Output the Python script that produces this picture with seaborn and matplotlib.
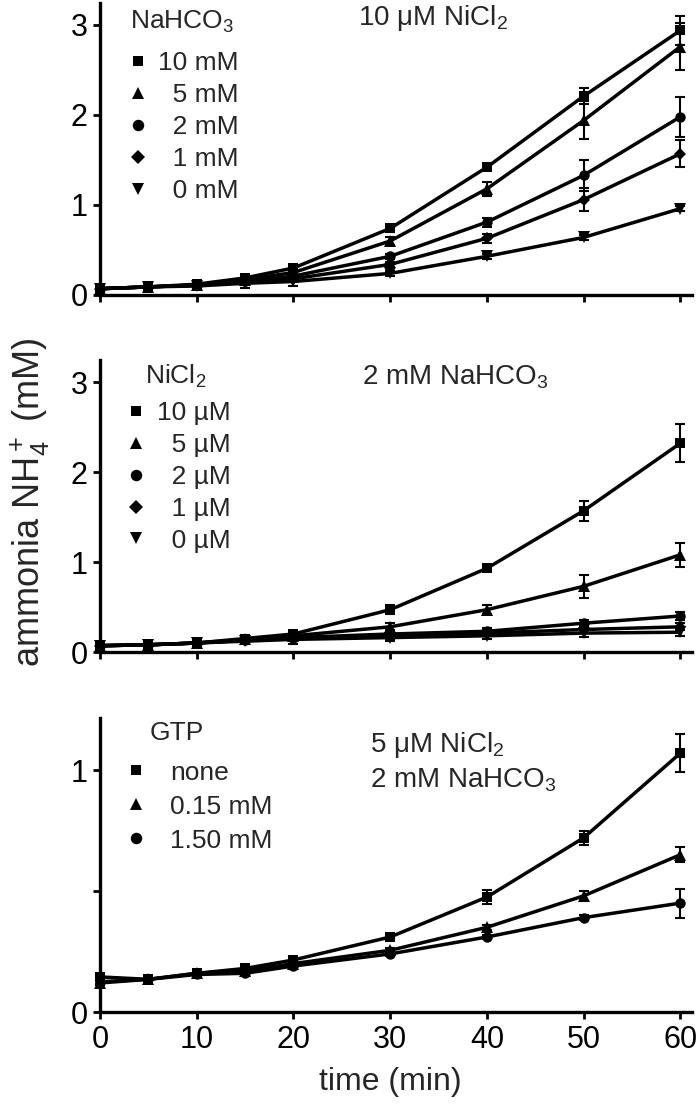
import numpy as np
import pandas as pd
import matplotlib
matplotlib.use('Agg')
import matplotlib.pyplot as plt
from matplotlib.lines import Line2D
import seaborn as sns

# time points (min)
TIME = [0, 5, 10, 15, 20, 30, 40, 50, 60]

# panel A: NaHCO3 series at 10 uM NiCl2
NA_LABELS = ['10 mM', '\u20075 mM', '\u20072 mM', '\u20071 mM', '\u20070 mM']
NA_VALUES = [
    [0.07, 0.09, 0.12, 0.19, 0.30, 0.74, 1.42, 2.21, 2.94],
    [0.07, 0.09, 0.11, 0.17, 0.25, 0.60, 1.18, 1.94, 2.76],
    [0.07, 0.09, 0.11, 0.15, 0.21, 0.43, 0.81, 1.33, 1.98],
    [0.07, 0.09, 0.11, 0.14, 0.18, 0.34, 0.63, 1.06, 1.57],
    [0.07, 0.09, 0.10, 0.13, 0.15, 0.24, 0.43, 0.64, 0.96],
]
NA_ERRORS = [
    [0.02, 0.02, 0.02, 0.03, 0.03, 0.04, 0.03, 0.09, 0.16],
    [0.02, 0.02, 0.02, 0.03, 0.03, 0.04, 0.08, 0.21, 0.26],
    [0.02, 0.02, 0.02, 0.03, 0.03, 0.03, 0.05, 0.17, 0.22],
    [0.02, 0.02, 0.02, 0.03, 0.03, 0.03, 0.05, 0.13, 0.15],
    [0.02, 0.02, 0.03, 0.05, 0.05, 0.03, 0.03, 0.03, 0.03],
]

# panel B: NiCl2 series at 2 mM NaHCO3
NI_LABELS = ['10 \u00b5M', '\u20075 \u00b5M', '\u20072 \u00b5M', '\u20071 \u00b5M', '\u20070 \u00b5M']
NI_VALUES = [
    [0.07, 0.08, 0.10, 0.15, 0.20, 0.47, 0.93, 1.57, 2.32],
    [0.07, 0.08, 0.10, 0.14, 0.18, 0.28, 0.47, 0.73, 1.08],
    [0.07, 0.08, 0.10, 0.13, 0.16, 0.20, 0.23, 0.32, 0.40],
    [0.07, 0.08, 0.10, 0.13, 0.15, 0.18, 0.21, 0.25, 0.28],
    [0.07, 0.08, 0.10, 0.12, 0.14, 0.16, 0.18, 0.21, 0.22],
]
NI_ERRORS = [
    [0.02, 0.02, 0.02, 0.03, 0.03, 0.05, 0.03, 0.11, 0.21],
    [0.02, 0.02, 0.02, 0.03, 0.04, 0.04, 0.05, 0.13, 0.13],
    [0.02, 0.02, 0.02, 0.03, 0.03, 0.03, 0.04, 0.04, 0.04],
    [0.02, 0.02, 0.02, 0.03, 0.03, 0.03, 0.03, 0.04, 0.04],
    [0.02, 0.02, 0.02, 0.03, 0.05, 0.04, 0.04, 0.04, 0.04],
]

# panel C: GTP series at 5 uM NiCl2, 2 mM NaHCO3
GTP_LABELS = ['none', '0.15 mM', '1.50 mM']
GTP_VALUES = [
    [0.145, 0.135, 0.16, 0.18, 0.215, 0.31, 0.475, 0.72, 1.07],
    [0.120, 0.135, 0.16, 0.17, 0.200, 0.255, 0.35, 0.48, 0.65],
    [0.125, 0.135, 0.155, 0.16, 0.190, 0.240, 0.31, 0.39, 0.45],
]
GTP_ERRORS = [
    [0.01, 0.01, 0.01, 0.01, 0.01, 0.01, 0.03, 0.03, 0.08],
    [0.01, 0.01, 0.01, 0.01, 0.01, 0.01, 0.01, 0.02, 0.03],
    [0.01, 0.01, 0.01, 0.01, 0.01, 0.01, 0.01, 0.01, 0.06],
]

MARKERS = ['s', '^', 'o', 'D', 'v']
MSIZES = [7, 8.5, 7.5, 6.5, 8.5]

sns.set_style('ticks')
plt.rcParams['font.family'] = ['Liberation Sans', 'DejaVu Sans']
plt.rcParams['mathtext.fontset'] = 'custom'
plt.rcParams['mathtext.rm'] = 'Liberation Sans'
plt.rcParams['mathtext.it'] = 'Liberation Sans:italic'
plt.rcParams['mathtext.sf'] = 'Liberation Sans'

W, H = 700, 1107
fig = plt.figure(figsize=(W / 100, H / 100), dpi=100)


def px_axes(left, right, bottom, top):
    return fig.add_axes([left / W, 1 - bottom / H, (right - left) / W, (bottom - top) / H])


def draw_panel(ax, labels, values, errors, ylim, yticks, yticklabels, label_xlabels):
    rows = []
    for lab, vals in zip(labels, values):
        for t, v in zip(TIME, vals):
            rows.append({'time': t, 'nh4': v, 'series': lab})
    df = pd.DataFrame(rows)
    n = len(labels)
    sns.lineplot(data=df, x='time', y='nh4', style='series', style_order=labels,
                 markers=dict(zip(labels, MARKERS[:n])), dashes=False, color='black',
                 linewidth=2.5, markeredgewidth=0, legend=False, ax=ax, zorder=3,
                 clip_on=False)
    for line, ms in zip(list(ax.lines)[:n], MSIZES):
        line.set_markersize(ms)
    for i in range(n):
        ax.errorbar(TIME, values[i], yerr=errors[i], fmt='none', ecolor='black',
                    elinewidth=1.5, capsize=3.5, capthick=1.5, clip_on=False, zorder=2)
    ax.set_xlim(0, 61.2)
    ax.set_ylim(*ylim)
    ax.set_xticks([0, 10, 20, 30, 40, 50, 60])
    ax.set_yticks(yticks)
    ax.set_yticklabels(yticklabels)
    if not label_xlabels:
        ax.set_xticklabels([])
    ax.set_xlabel('')
    ax.set_ylabel('')
    ax.tick_params(direction='out', length=5, width=2, labelsize=22, colors='black', pad=4)
    for side in ['left', 'bottom']:
        ax.spines[side].set_linewidth(2.4)
        ax.spines[side].set_color('black')
    sns.despine(ax=ax)


def add_legend(ax, labels, anchor, textpad, spacing):
    n = len(labels)
    handles = [Line2D([], [], color='black', marker=MARKERS[i], linestyle='none',
                      markersize=MSIZES[i] * 1.1, markeredgewidth=0) for i in range(n)]
    ax.legend(handles, labels, loc='upper left', bbox_to_anchor=anchor, frameon=False,
              fontsize=19, handlelength=0.7, handletextpad=textpad,
              labelspacing=spacing, borderpad=0, borderaxespad=0)


def px_text(x, y, s, size=19):
    # place text by figure pixel position
    fig.text(x / W, 1 - y / H, s, fontsize=size, ha='left', va='center')


ax1 = px_axes(100, 692, 295, 2.5)
draw_panel(ax1, NA_LABELS, NA_VALUES, NA_ERRORS, (0, 3.25), [0, 1, 2, 3],
           ['0', '1', '2', '3'], False)
add_legend(ax1, NA_LABELS, (0.048, 0.833), 0.44, 0.3)
px_text(130, 22, 'NaHCO$_3$')
px_text(358, 18, '10 \u03bcM NiCl$_2$', 20)

ax2 = px_axes(100, 692, 652, 359.5)
draw_panel(ax2, NI_LABELS, NI_VALUES, NI_ERRORS, (0, 3.25), [0, 1, 2, 3],
           ['0', '1', '2', '3'], False)
add_legend(ax2, NI_LABELS, (0.045, 0.858), 0.44, 0.3)
px_text(145, 376, 'NiCl$_2$')
px_text(362, 377, '2 mM NaHCO$_3$', 20)

ax3 = px_axes(100, 692, 1012, 718)
draw_panel(ax3, GTP_LABELS, GTP_VALUES, GTP_ERRORS, (0, 1.215), [0, 0.5, 1],
           ['0', '', '1'], True)
add_legend(ax3, GTP_LABELS, (0.045, 0.855), 0.95, 0.38)
px_text(150, 733, 'GTP')
px_text(370, 745, '5 \u03bcM NiCl$_2$', 20)
px_text(370, 780, '2 mM NaHCO$_3$', 20)

fig.text(30 / W, 1 - 502 / H, 'ammonia NH$_4^+$ (mM)', rotation=90, fontsize=26,
         ha='center', va='center')
fig.text(390 / W, 1 - 1082 / H, 'time (min)', fontsize=23, ha='center', va='center')

fig.savefig('out.png', dpi=100)
